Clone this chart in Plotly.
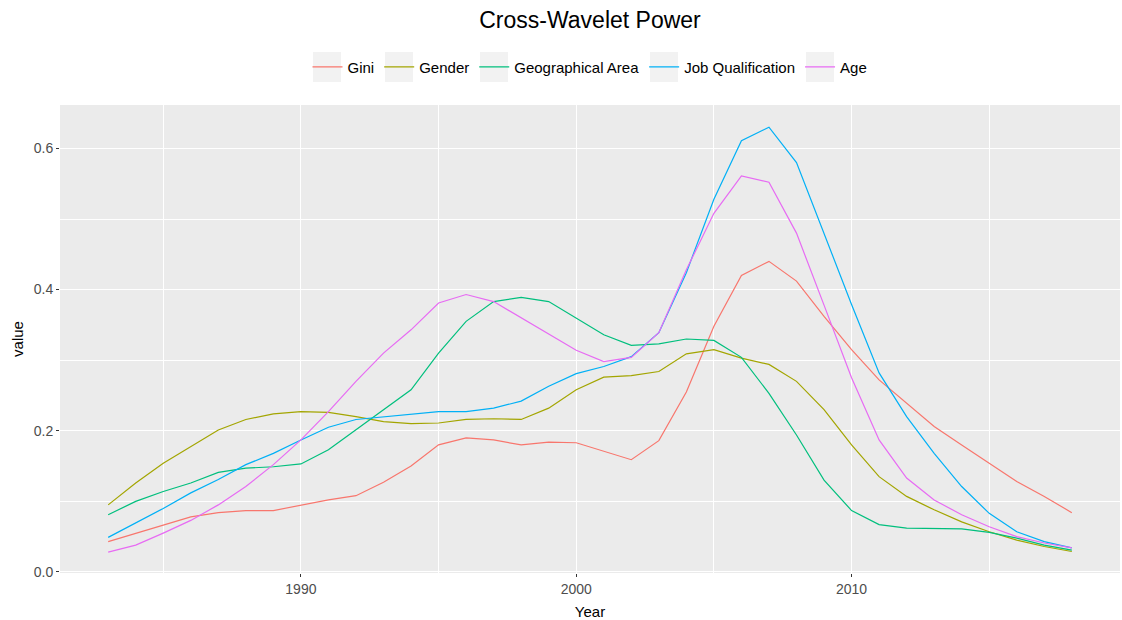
import plotly.graph_objects as go

years = list(range(1983, 2019))

gini = [0.043, 0.055, 0.067, 0.078, 0.084, 0.087, 0.087, 0.095, 0.102, 0.108, 0.127, 0.150,
        0.180, 0.190, 0.187, 0.180, 0.184, 0.183, 0.171, 0.159, 0.186, 0.255, 0.348, 0.420,
        0.440, 0.412, 0.362, 0.315, 0.272, 0.239, 0.206, 0.180, 0.154, 0.128, 0.107, 0.084]
gender = [0.095, 0.126, 0.154, 0.178, 0.201, 0.216, 0.224, 0.227, 0.226, 0.220, 0.213, 0.210,
          0.211, 0.216, 0.217, 0.216, 0.232, 0.258, 0.276, 0.278, 0.284, 0.309, 0.315, 0.303,
          0.294, 0.270, 0.230, 0.180, 0.135, 0.107, 0.088, 0.071, 0.057, 0.045, 0.036, 0.029]
geo = [0.081, 0.100, 0.114, 0.126, 0.141, 0.147, 0.149, 0.153, 0.173, 0.201, 0.230, 0.258,
       0.310, 0.355, 0.383, 0.389, 0.383, 0.360, 0.336, 0.321, 0.323, 0.330, 0.328, 0.304,
       0.253, 0.194, 0.130, 0.087, 0.067, 0.062, 0.061, 0.061, 0.056, 0.048, 0.038, 0.031]
job = [0.049, 0.069, 0.090, 0.112, 0.131, 0.152, 0.168, 0.187, 0.205, 0.216, 0.220, 0.223,
       0.227, 0.227, 0.232, 0.242, 0.263, 0.281, 0.291, 0.305, 0.339, 0.424, 0.528, 0.611,
       0.630, 0.580, 0.480, 0.379, 0.282, 0.220, 0.168, 0.121, 0.083, 0.057, 0.043, 0.034]
age = [0.028, 0.038, 0.055, 0.073, 0.095, 0.121, 0.152, 0.187, 0.227, 0.270, 0.310, 0.343,
       0.381, 0.393, 0.383, 0.360, 0.336, 0.314, 0.298, 0.304, 0.339, 0.428, 0.508, 0.561,
       0.552, 0.480, 0.378, 0.275, 0.187, 0.133, 0.102, 0.081, 0.064, 0.050, 0.041, 0.034]

series_names = ["Gini", "Gender", "Geographical Area", "Job Qualification", "Age"]
series_values = [gini, gender, geo, job, age]
colors = ["#F8766D", "#A3A500", "#00BF7D", "#00B0F6", "#E76BF3"]

W, H = 1122, 620
ML, MR, MT, MB = 60, 2, 105, 47
PW, PH = W - ML - MR, H - MT - MB

fig = go.Figure()
for name, vals, col in zip(series_names, series_values, colors):
    fig.add_trace(go.Scatter(x=years, y=vals, mode="lines", name=name,
                             line=dict(color=col, width=1.2)))

# grey legend key backgrounds (ggplot style), centred on plotly's legend symbols
key_centers_px = [327, 399, 494, 664, 820]
for cx in key_centers_px:
    fig.add_shape(type="rect", xref="paper", yref="paper",
                  x0=(cx - 14 - ML) / PW, x1=(cx + 14 - ML) / PW,
                  y0=(H - MB - 82) / PH, y1=(H - MB - 52) / PH,
                  fillcolor="#F2F2F2", line=dict(width=0), layer="below")

font_family = "Liberation Sans, Arial, sans-serif"
fig.update_layout(
    width=W, height=H,
    margin=dict(l=ML, r=MR, t=MT, b=MB, autoexpand=False),
    paper_bgcolor="white",
    plot_bgcolor="#EBEBEB",
    font=dict(family=font_family, color="#000000", size=15),
    title=dict(text="Cross-Wavelet Power", x=0.5, xref="paper", xanchor="center",
               y=0.968, yref="container", yanchor="middle",
               font=dict(size=23, color="black", family=font_family)),
    legend=dict(orientation="h", x=0.5, xanchor="center", y=1.081, yanchor="middle",
                font=dict(size=15, color="black"), itemwidth=30, bgcolor="rgba(0,0,0,0)"),
    showlegend=True,
)
fig.update_xaxes(
    range=[1981.25, 2019.75], tick0=1990, dtick=10, automargin=False,
    showgrid=True, gridcolor="white", gridwidth=1.2,
    minor=dict(dtick=5, tick0=1985, showgrid=True, gridcolor="white", gridwidth=0.6),
    zeroline=False, showline=False,
    ticks="outside", ticklen=3, tickcolor="#333333",
    tickfont=dict(size=14, color="#4D4D4D"),
    title=dict(text="Year", font=dict(size=15, color="black"), standoff=11),
)
fig.update_yaxes(
    range=[-0.0015, 0.6615], tick0=0, dtick=0.2, tickformat=".1f", automargin=False,
    showgrid=True, gridcolor="white", gridwidth=1.2,
    minor=dict(dtick=0.1, tick0=0, showgrid=True, gridcolor="white", gridwidth=0.6),
    zeroline=False, showline=False,
    ticks="outside", ticklen=3, tickcolor="#333333",
    tickfont=dict(size=14, color="#4D4D4D"),
    title=dict(text="value", font=dict(size=15, color="black"), standoff=6),
)

fig.write_html("out.html", config={"displayModeBar": False},
               post_script="document.body.style.margin='0';document.body.style.overflow='hidden';")
